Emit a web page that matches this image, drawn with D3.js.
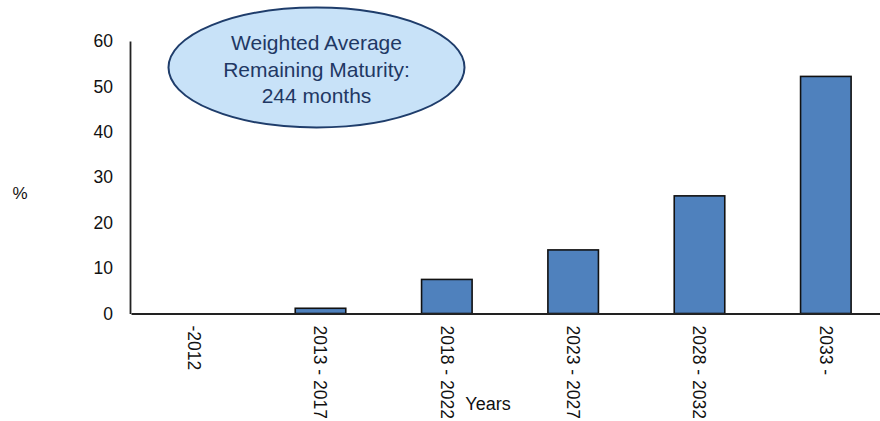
<!DOCTYPE html>
<html>
<head>
<meta charset="utf-8">
<script src="https://cdn.jsdelivr.net/npm/d3@7"></script>
<style>
  html, body { margin: 0; padding: 0; background: #fff; }
  svg { display: block; font-family: "Liberation Sans", Arial, sans-serif; }
</style>
</head>
<body>
<svg id="chart" width="880" height="421"></svg>
<script>
// Maturity buckets and share of outstanding amount (%)
const categories = ["-2012", "2013 - 2017", "2018 - 2022", "2023 - 2027", "2028 - 2032", "2033 -"];
const shares = [0, 1.15, 7.5, 14.0, 25.9, 52.2];
const yTicks = [0, 10, 20, 30, 40, 50, 60];
const calloutLines = ["Weighted Average", "Remaining Maturity:", "244 months"];

const svg = d3.select("#chart");

const x = d3.scaleBand()
  .domain(categories)
  .range([131, 889])
  .paddingInner(0.6)
  .paddingOuter(0.3);

const y = d3.scaleLinear()
  .domain([0, 60])
  .range([313.5, 41]);

// Bars
svg.append("g")
  .selectAll("rect")
  .data(categories.map((c, i) => ({ c, v: shares[i] })))
  .join("rect")
  .attr("x", d => x(d.c))
  .attr("y", d => y(d.v))
  .attr("width", x.bandwidth())
  .attr("height", d => y(0) - y(d.v))
  .attr("fill", "#4f81bd")
  .attr("stroke", "#111")
  .attr("stroke-width", 1.6);

// Y axis (no tick marks)
const yAxis = svg.append("g")
  .attr("transform", "translate(130,0)")
  .call(d3.axisLeft(y).tickValues(yTicks).tickSize(0).tickPadding(17));
yAxis.select(".domain").attr("stroke", "#222").attr("stroke-width", 1.8);
yAxis.selectAll("text")
  .attr("font-size", 17.5)
  .attr("font-family", "Liberation Sans, Arial, sans-serif")
  .attr("fill", "#111");

// X axis with vertical labels
const xAxis = svg.append("g")
  .attr("transform", `translate(0,${y(0)})`)
  .call(d3.axisBottom(x).tickSize(0).tickPadding(0));
xAxis.select(".domain").attr("stroke", "#222").attr("stroke-width", 2);
xAxis.selectAll("text")
  .attr("font-size", 17.5)
  .attr("font-family", "Liberation Sans, Arial, sans-serif")
  .attr("fill", "#111")
  .attr("text-anchor", "start")
  .attr("transform", "rotate(90)")
  .attr("x", 12)
  .attr("y", 0)
  .attr("dy", "0.35em");

// Axis titles
svg.append("text")
  .attr("x", 20).attr("y", 199)
  .attr("text-anchor", "middle")
  .attr("font-size", 17)
  .attr("fill", "#111")
  .text("%");

svg.append("text")
  .attr("x", 488).attr("y", 410)
  .attr("text-anchor", "middle")
  .attr("font-size", 18)
  .attr("fill", "#111")
  .text("Years");

// Callout ellipse
const callout = svg.append("g");
callout.append("ellipse")
  .attr("cx", 316.5).attr("cy", 67.5)
  .attr("rx", 148).attr("ry", 60)
  .attr("fill", "#c8e2f8")
  .attr("stroke", "#1f3d6b")
  .attr("stroke-width", 2);
callout.selectAll("text")
  .data(calloutLines)
  .join("text")
  .attr("x", 316.5)
  .attr("y", (d, i) => 50 + i * 26.5)
  .attr("text-anchor", "middle")
  .attr("font-size", 21)
  .attr("fill", "#1f3864")
  .text(d => d);
</script>
</body>
</html>
